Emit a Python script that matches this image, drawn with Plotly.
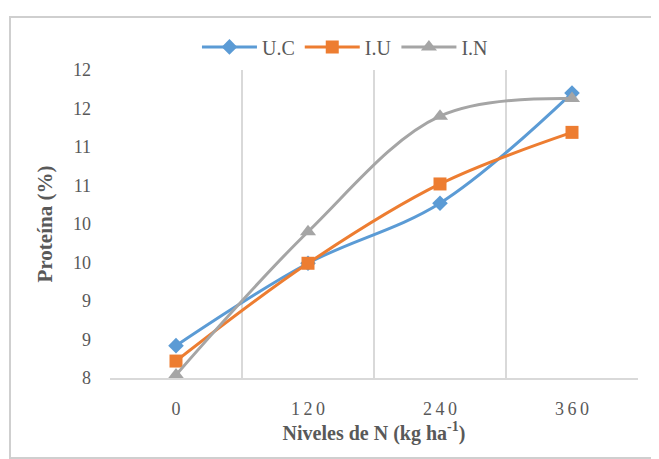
import plotly.graph_objects as go

categories = ["0", "120", "240", "360"]
category_labels = ["0", "1\u20092\u20090", "2\u20094\u20090", "3\u20096\u20090"]
uc = [8.42, 9.49, 10.27, 11.70]
iu = [8.22, 9.49, 10.52, 11.19]
inn = [8.04, 9.90, 11.40, 11.63]
y_tickvals = [8, 8.5, 9, 9.5, 10, 10.5, 11, 11.5, 12]
y_ticktext = ["8", "9", "9", "10", "10", "11", "11", "12", "12"]

FONT = "Liberation Serif"
GRAY_TXT = "#595959"

fig = go.Figure()
series = [
    ("U.C", uc, "#5B9BD5", "diamond", 12),
    ("I.U", iu, "#ED7D31", "square", 13),
    ("I.N", inn, "#A5A5A5", "triangle-up", 14),
]
for name, vals, color, sym, size in series:
    fig.add_trace(go.Scatter(
        x=categories, y=vals, name=name, mode="lines+markers",
        line=dict(color=color, width=3, shape="spline", smoothing=1),
        marker=dict(symbol=sym, size=size, color=color),
    ))

fig.update_layout(
    width=651, height=451,
    margin=dict(l=102, r=21, t=62, b=81, autoexpand=False),
    paper_bgcolor="white", plot_bgcolor="white",
    font=dict(family=FONT, color=GRAY_TXT, size=18),
    showlegend=True,
    legend=dict(orientation="h", x=0.445, xanchor="center", y=1.075, yanchor="middle",
                font=dict(family=FONT, size=20, color=GRAY_TXT), itemwidth=55, traceorder="normal",
                bgcolor="rgba(0,0,0,0)"),
    xaxis=dict(
        type="category", categoryorder="array", categoryarray=categories,
        range=[-0.5, 3.5], tickmode="array", tickvals=categories, ticktext=category_labels,
        tickson="boundaries", showgrid=True, gridcolor="#D9D9D9", gridwidth=1.5,
        showline=True, linecolor="#D9D9D9", linewidth=1.5, ticks="", ticklabelstandoff=14,
        tickfont=dict(family=FONT, size=18, color=GRAY_TXT), zeroline=False,
        title=dict(text="<b>Niveles de N (kg ha<sup>-1</sup>)</b>", font=dict(family=FONT, size=20, color=GRAY_TXT), standoff=6),
    ),
    yaxis=dict(
        range=[8, 12], tickmode="array", tickvals=y_tickvals, ticktext=y_ticktext,
        showgrid=False, zeroline=False, showline=False, ticks="", ticklabelstandoff=18,
        tickfont=dict(family=FONT, size=18, color=GRAY_TXT),
        title=dict(text="<b>Proteína (%)</b>", font=dict(family=FONT, size=21, color=GRAY_TXT), standoff=14),
    ),
)

# outer chart border
bx0 = (10 - 110) / 528
bx1 = (658 - 110) / 528
by0 = (378 - 458) / 308
by1 = (378 - 17) / 308
fig.add_shape(type="rect", xref="paper", yref="paper", x0=bx0, x1=bx1, y0=by0, y1=by1,
              line=dict(color="#CFCFCF", width=2), fillcolor="rgba(0,0,0,0)", layer="below")
fig.add_shape(type="line", xref="paper", yref="paper", x0=0, x1=1, y0=by1, y1=by1,
              line=dict(color="#CFCFCF", width=2), layer="below")

fig.write_html("out.html", config={"displayModeBar": False})
